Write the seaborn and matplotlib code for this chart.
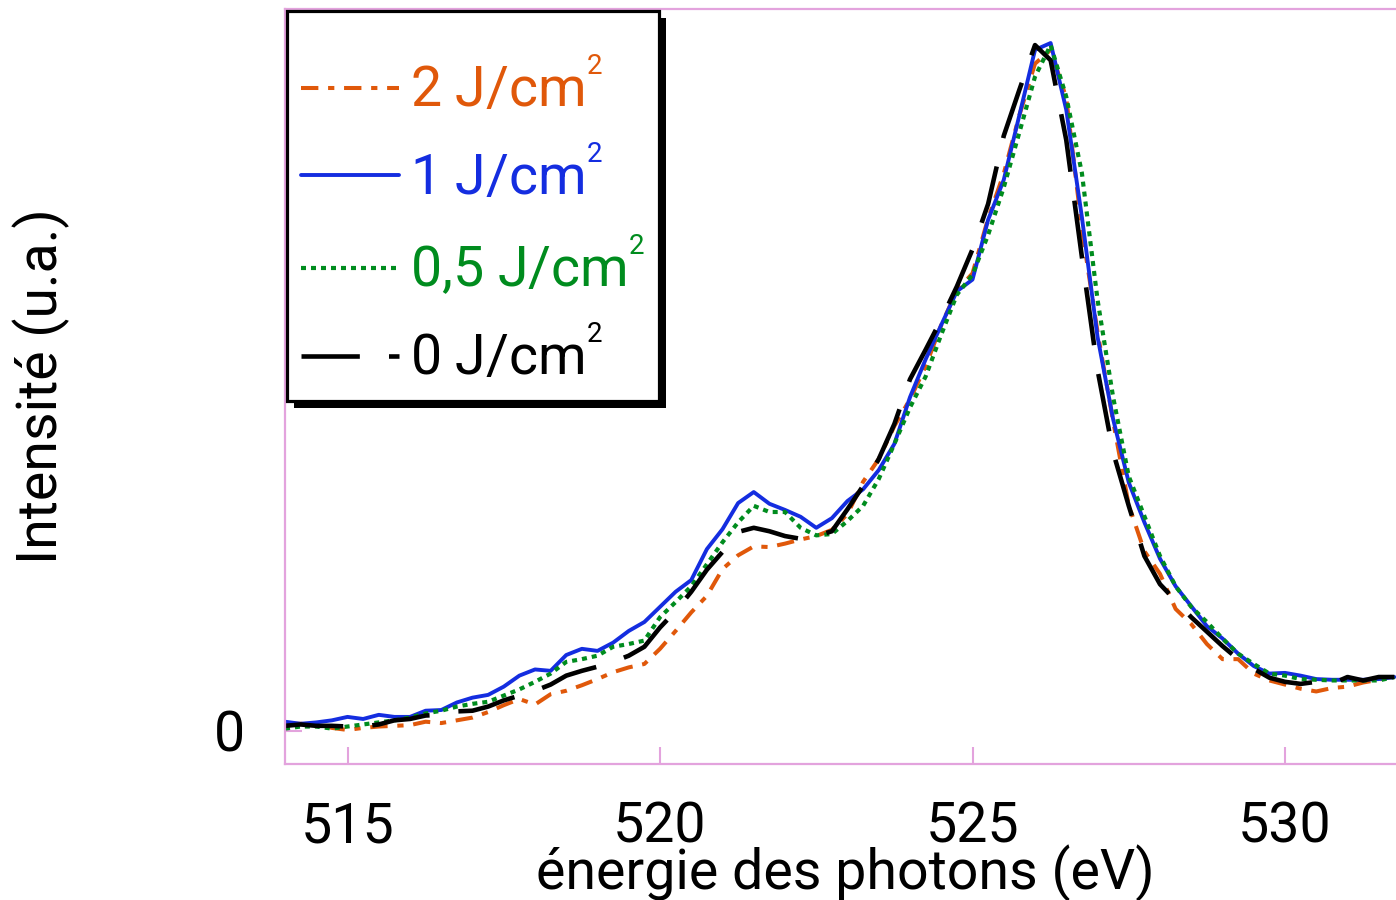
import numpy as np
import pandas as pd
import matplotlib
matplotlib.use("Agg")
import matplotlib.pyplot as plt
import matplotlib._mathtext as _mt
import seaborn as sns
from matplotlib.patches import Rectangle
from matplotlib.transforms import IdentityTransform

# ---------------- data ----------------
energy_ev = [514.0, 514.25, 514.5, 514.75, 515.0, 515.25, 515.5, 515.75,
             516.0, 516.25, 516.5, 516.75, 517.0, 517.25, 517.5, 517.75,
             518.0, 518.25, 518.5, 518.75, 519.0, 519.25, 519.5, 519.75,
             520.0, 520.25, 520.5, 520.75, 521.0, 521.25, 521.5, 521.75,
             522.0, 522.25, 522.5, 522.75, 523.0, 523.25, 523.5, 523.75,
             524.0, 524.25, 524.5, 524.75, 525.0, 525.25, 525.5, 525.75,
             526.0, 526.25, 526.5, 526.75, 527.0, 527.25, 527.5, 527.75,
             528.0, 528.25, 528.5, 528.75, 529.0, 529.25, 529.5, 529.75,
             530.0, 530.25, 530.5, 530.75, 531.0, 531.25, 531.5, 531.75]

i_2J = [0.010, 0.010, 0.010, 0.004, 0.001, 0.004, 0.006, 0.007,
        0.008, 0.013, 0.011, 0.015, 0.019, 0.027, 0.037, 0.046,
        0.038, 0.053, 0.058, 0.066, 0.075, 0.085, 0.092, 0.097,
        0.119, 0.145, 0.172, 0.196, 0.235, 0.255, 0.268, 0.267,
        0.272, 0.278, 0.283, 0.292, 0.315, 0.362, 0.395, 0.443,
        0.482, 0.530, 0.590, 0.640, 0.665, 0.745, 0.810, 0.895,
        0.970, 0.990, 0.920, 0.730, 0.580, 0.450, 0.328, 0.261,
        0.228, 0.177, 0.155, 0.126, 0.104, 0.104, 0.083, 0.073,
        0.067, 0.061, 0.057, 0.062, 0.064, 0.070, 0.074, 0.081]

i_1J = [0.013, 0.010, 0.012, 0.015, 0.020, 0.017, 0.023, 0.020,
        0.020, 0.029, 0.030, 0.041, 0.048, 0.052, 0.064, 0.080,
        0.089, 0.087, 0.110, 0.119, 0.116, 0.128, 0.145, 0.158,
        0.180, 0.202, 0.219, 0.264, 0.293, 0.331, 0.347, 0.330,
        0.321, 0.311, 0.295, 0.309, 0.334, 0.351, 0.379, 0.417,
        0.485, 0.540, 0.590, 0.639, 0.656, 0.743, 0.801, 0.895,
        0.990, 1.000, 0.903, 0.747, 0.573, 0.453, 0.361, 0.303,
        0.250, 0.210, 0.181, 0.152, 0.134, 0.112, 0.094, 0.083,
        0.084, 0.080, 0.075, 0.074, 0.074, 0.074, 0.075, 0.078]

i_05J = [0.003, 0.006, 0.006, 0.003, 0.006, 0.009, 0.012, 0.015,
         0.019, 0.025, 0.029, 0.035, 0.039, 0.042, 0.051, 0.060,
         0.071, 0.083, 0.100, 0.104, 0.109, 0.122, 0.126, 0.131,
         0.165, 0.187, 0.210, 0.242, 0.274, 0.303, 0.327, 0.318,
         0.318, 0.295, 0.284, 0.286, 0.305, 0.327, 0.366, 0.417,
         0.470, 0.515, 0.576, 0.634, 0.663, 0.721, 0.790, 0.870,
         0.951, 0.997, 0.922, 0.811, 0.627, 0.485, 0.370, 0.312,
         0.254, 0.210, 0.180, 0.158, 0.134, 0.112, 0.097, 0.083,
         0.080, 0.075, 0.074, 0.073, 0.073, 0.073, 0.073, 0.078]

i_0J = [0.007, 0.009, 0.007, 0.007, 0.006, 0.006, 0.009, 0.015,
        0.017, 0.022, 0.023, 0.028, 0.029, 0.035, 0.044, 0.051,
        0.058, 0.067, 0.080, 0.087, 0.093, 0.100, 0.109, 0.122,
        0.150, 0.174, 0.202, 0.234, 0.260, 0.289, 0.295, 0.290,
        0.283, 0.279, 0.283, 0.290, 0.322, 0.356, 0.395, 0.446,
        0.511, 0.554, 0.598, 0.646, 0.700, 0.766, 0.865, 0.932,
        0.997, 0.975, 0.859, 0.689, 0.525, 0.405, 0.327, 0.254,
        0.213, 0.189, 0.165, 0.144, 0.123, 0.104, 0.090, 0.077,
        0.071, 0.068, 0.071, 0.068, 0.078, 0.073, 0.078, 0.078]

labels = ["2 J/cm$^{2}$", "1 J/cm$^{2}$", "0,5 J/cm$^{2}$", "0 J/cm$^{2}$"]
series = [i_2J, i_1J, i_05J, i_0J]
x_ticks = [515, 520, 525, 530]
x_label = "énergie des photons (eV)"
y_label = "Intensité (u.a.)"

# ---------------- style ----------------
_mt.SHRINK_FACTOR = 0.5            # smaller superscripts, as in the reference
_mt.FontConstantsBase.sup1 = 1.1   # raised a bit higher

sns.set_theme(style="white")
plt.rcParams["font.family"] = ["Roboto", "DejaVu Sans"]
plt.rcParams["mathtext.fontset"] = "custom"
plt.rcParams["mathtext.rm"] = "Roboto"
plt.rcParams["mathtext.it"] = "Roboto:italic"
plt.rcParams["mathtext.bf"] = "Roboto:bold"
plt.rcParams["lines.scale_dashes"] = False

pink = "#E3A3DD"
colors = ["#E0580A", "#142DE0", "#008C1E", "#000000"]
styles = [(0, (12.5, 7.0, 4.5, 7.0)), "-", (0, (3.6, 3.6)), (0, (42, 21))]
widths = [2.9, 2.8, 3.0, 3.3]

fig = plt.figure(figsize=(13.96, 9.0), dpi=100)
W, H = 1396.0, 900.0
ax_left, ax_right, ax_top, ax_bot = 285, 1410, 9, 764
ax = fig.add_axes([ax_left / W, 1 - ax_bot / H, (ax_right - ax_left) / W, (ax_bot - ax_top) / H])

for lab, vals, c, ls, lw in zip(labels, series, colors, styles, widths):
    df = pd.DataFrame({"energie": energy_ev, "intensite": vals})
    sns.lineplot(data=df, x="energie", y="intensite", color=c, linestyle=ls,
                 linewidth=lw, label=lab, ax=ax)

ax.set_xlim(514.0, 532.0)
ax.set_ylim(-0.0485, 1.0495)
ax.set_xticks(x_ticks)
ax.set_xticklabels([str(t) for t in x_ticks])
ax.set_yticks([0])
ax.set_yticklabels(["0"])

for sp in ax.spines.values():
    sp.set_color(pink)
    sp.set_linewidth(1.6)
    sp.set_visible(True)

ax.tick_params(axis="both", which="both", direction="in", length=12.2, width=1.5,
               color=pink, labelsize=40, labelcolor="black")
ax.tick_params(axis="x", pad=26, bottom=True)
ax.tick_params(axis="y", pad=29, left=True)

ax.set_xlabel(x_label, fontsize=40, color="black")
ax.set_ylabel(y_label, fontsize=40, color="black")
ax.xaxis.set_label_coords(0.4978, -0.106)
ax.yaxis.set_label_coords(-0.191, 0.50)

leg = ax.legend(loc="upper left", bbox_to_anchor=(0.0018, 0.9974), borderaxespad=0,
                fontsize=40, frameon=True, fancybox=False, framealpha=1,
                edgecolor="black", handlelength=1.75, handletextpad=0.2,
                borderpad=0.26, labelspacing=0.51, title=" ", title_fontsize=4)
leg.get_frame().set_linewidth(2.3)
for txt, c in zip(leg.get_texts(), colors):
    txt.set_color(c)

fig.canvas.draw()
bb = leg.get_window_extent()
shadow = Rectangle((bb.x0 + 7, bb.y0 - 7), bb.width, bb.height, transform=IdentityTransform(),
                   facecolor="black", edgecolor="none", zorder=4.9, clip_on=False)
ax.add_artist(shadow)

fig.savefig("out.png", dpi=100)
